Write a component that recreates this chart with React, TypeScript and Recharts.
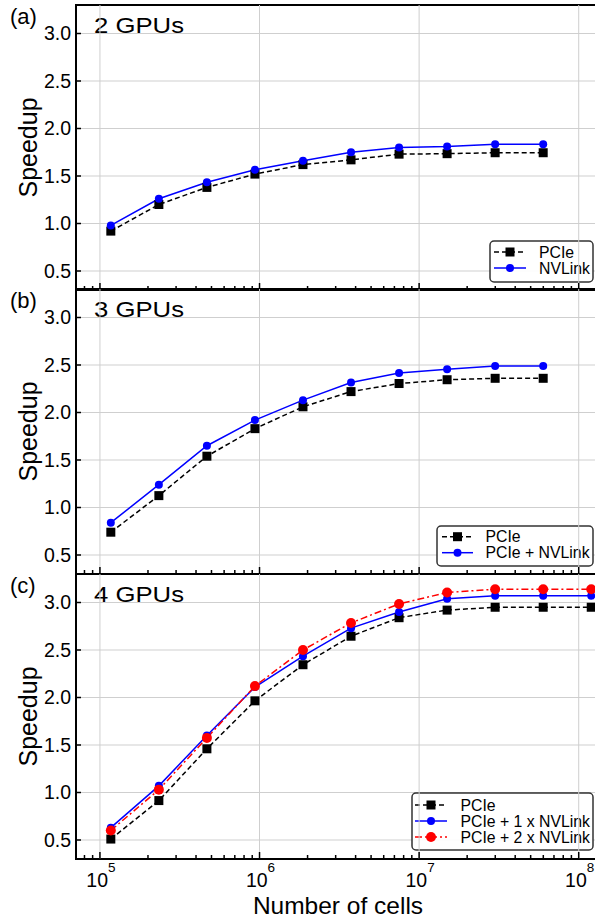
import { CartesianGrid, Customized, Line, LineChart, ReferenceLine, XAxis, YAxis } from 'recharts'

// number of cells at each measurement
const cells = [117000, 234000, 468000, 936000, 1872000, 3744000, 7488000, 14976000, 29952000, 59904000, 119808000]

// (a) 2 GPUs
const pcie2 = [0.92, 1.2, 1.38, 1.52, 1.62, 1.67, 1.73, 1.735, 1.745, 1.745]
const nvlink2 = [0.98, 1.26, 1.435, 1.565, 1.66, 1.75, 1.8, 1.81, 1.835, 1.835]

// (b) 3 GPUs
const pcie3 = [0.74, 1.125, 1.54, 1.83, 2.06, 2.22, 2.305, 2.345, 2.36, 2.36]
const nvlink3 = [0.84, 1.24, 1.65, 1.92, 2.13, 2.315, 2.415, 2.455, 2.49, 2.49]

// (c) 4 GPUs
const pcie4 = [0.51, 0.915, 1.46, 1.965, 2.345, 2.645, 2.84, 2.92, 2.95, 2.95, 2.95]
const nvlink1x4 = [0.63, 1.07, 1.6, 2.11, 2.435, 2.73, 2.9, 3.04, 3.07, 3.07, 3.07]
const nvlink2x4 = [0.6, 1.03, 1.575, 2.12, 2.5, 2.785, 2.985, 3.105, 3.14, 3.14, 3.14]

const yTicks = [0.5, 1, 1.5, 2, 2.5, 3]
const xMajorTicks = [1e5, 1e6, 1e7, 1e8]
const xMinorTicks = [
  8e4, 9e4, 2e5, 3e5, 4e5, 5e5, 6e5, 7e5, 8e5, 9e5, 2e6, 3e6, 4e6, 5e6, 6e6, 7e6, 8e6, 9e6,
  2e7, 3e7, 4e7, 5e7, 6e7, 7e7, 8e7, 9e7,
]
// the plot runs past the right edge of the figure, so the visible part ends near 1.27e8
const xRange = [70795, 126500000]

const FONT = 'Arial, "Liberation Sans", Helvetica, sans-serif'
const CHART_W = 595
const PLOT_LEFT = 76
const MARGIN_TOP = 5
const PLOT_H = 285

type Series = {
  name: string
  values: number[]
  color: string
  dash?: string
  marker: 'square' | 'circle'
  size: number
}

type LegendBox = { x: number; y: number; w: number; h: number; rowY: number; lineX1: number; lineX2: number; textX: number }

function Marker({ s, cx, cy }: { s: Series; cx: number; cy: number }) {
  if (s.marker === 'square') {
    return <rect x={cx - s.size / 2} y={cy - s.size / 2} width={s.size} height={s.size} fill={s.color} />
  }
  return <circle cx={cx} cy={cy} r={s.size / 2} fill={s.color} />
}

function XTick(props: any) {
  const { x, y, payload, showLabels } = props
  const major = xMajorTicks.indexOf(payload.value) >= 0
  return (
    <g>
      <line x1={x} x2={x} y1={y} y2={y - (major ? 7 : 4)} stroke="#000" strokeWidth={1.5} />
      {showLabels && major && (
        <text x={x + 1} y={y + 28} textAnchor="middle" fontSize={19.5} fontFamily={FONT} fill="#000">
          <tspan>10</tspan>
          <tspan dy={-15} fontSize={13.5}>{Math.round(Math.log10(payload.value))}</tspan>
        </text>
      )}
    </g>
  )
}

function YTick(props: any) {
  const { x, y, payload } = props
  return (
    <g>
      <line x1={x} x2={x + 5} y1={y} y2={y} stroke="#000" strokeWidth={1.5} />
      <text x={x - 5} y={y + 6.8} textAnchor="end" fontSize={19.5} fontFamily={FONT} fill="#000">
        {Number(payload.value).toFixed(1)}
      </text>
    </g>
  )
}

function Overlay({ letter, title, series, legend, xLabel }: { letter: string; title: string; series: Series[]; legend: LegendBox; xLabel: boolean }) {
  const top = MARGIN_TOP
  const bottom = MARGIN_TOP + PLOT_H
  return (
    <g fontFamily={FONT}>
      <path
        d={`M${CHART_W + 2},${top} H${PLOT_LEFT} V${bottom} H${CHART_W + 2}`}
        fill="none"
        stroke="#000"
        strokeWidth={2}
      />
      <text x={10} y={MARGIN_TOP + 19} fontSize={22} fill="#000">{letter}</text>
      <text x={94} y={MARGIN_TOP + 28} fontSize={22} textLength={90} lengthAdjust="spacingAndGlyphs" fill="#000">
        {title}
      </text>
      <text
        transform={`translate(37, ${MARGIN_TOP + PLOT_H / 2}) rotate(-90)`}
        textAnchor="middle"
        fontSize={25}
        fill="#000"
      >
        Speedup
      </text>
      {xLabel && (
        <text x={338} y={345} textAnchor="middle" fontSize={24.5} fill="#000">
          Number of cells
        </text>
      )}
      <rect x={legend.x} y={legend.y} width={legend.w} height={legend.h} rx={4} fill="#fff" fillOpacity={0.92} stroke="#333" strokeWidth={1.5} />
      {series.map((s, i) => {
        const cy = legend.rowY + i * 16
        return (
          <g key={s.name}>
            <line x1={legend.lineX1} x2={legend.lineX2} y1={cy} y2={cy} stroke={s.color} strokeWidth={1.5} strokeDasharray={s.dash} />
            <Marker s={s} cx={(legend.lineX1 + legend.lineX2) / 2} cy={cy} />
            <text x={legend.textX} y={cy + 5.6} fontSize={15.8} fill="#000">{s.name}</text>
          </g>
        )
      })}
    </g>
  )
}

function Panel({ letter, title, series, legend, xAxisHeight, xLabel }: { letter: string; title: string; series: Series[]; legend: LegendBox; xAxisHeight: number; xLabel: boolean }) {
  const n = Math.max(...series.map((s) => s.values.length))
  const data = cells.slice(0, n).map((c, i) => {
    const row: Record<string, number> = { cells: c }
    series.forEach((s, k) => {
      row['s' + k] = s.values[i]
    })
    return row
  })
  return (
    <LineChart
      width={CHART_W}
      height={MARGIN_TOP + PLOT_H + xAxisHeight}
      data={data}
      margin={{ top: MARGIN_TOP, right: 0, bottom: 0, left: 0 }}
    >
      <CartesianGrid vertical={false} stroke="#cfcfcf" />
      {xMajorTicks.map((v) => (
        <ReferenceLine key={v} x={v} stroke="#cfcfcf" strokeWidth={1} />
      ))}
      <XAxis
        dataKey="cells"
        type="number"
        scale="log"
        domain={xRange}
        allowDataOverflow
        ticks={[...xMinorTicks, ...xMajorTicks]}
        interval={0}
        height={xAxisHeight}
        axisLine={false}
        tickLine={false}
        tickSize={0}
        tickMargin={0}
        tick={<XTick showLabels={xLabel} />}
      />
      <YAxis
        type="number"
        domain={[0.3, 3.3]}
        allowDataOverflow
        ticks={yTicks}
        interval={0}
        width={PLOT_LEFT}
        axisLine={false}
        tickLine={false}
        tickSize={0}
        tickMargin={0}
        tick={<YTick />}
      />
      {series.map((s, k) => (
        <Line
          key={s.name}
          dataKey={'s' + k}
          type="linear"
          stroke={s.color}
          strokeWidth={1.5}
          strokeDasharray={s.dash}
          dot={(p: any) =>
            p.cx == null || p.cy == null ? <g key={'d' + p.index} /> : (
              <g key={'d' + p.index}>
                <Marker s={s} cx={p.cx} cy={p.cy} />
              </g>
            )
          }
          activeDot={false}
          isAnimationActive={false}
        />
      ))}
      <Customized component={<Overlay letter={letter} title={title} series={series} legend={legend} xLabel={xLabel} />} />
    </LineChart>
  )
}

const seriesA: Series[] = [
  { name: 'PCIe', values: pcie2, color: '#000000', dash: '5 3', marker: 'square', size: 9 },
  { name: 'NVLink', values: nvlink2, color: '#0000ff', marker: 'circle', size: 8 },
]
const seriesB: Series[] = [
  { name: 'PCIe', values: pcie3, color: '#000000', dash: '5 3', marker: 'square', size: 9 },
  { name: 'PCIe + NVLink', values: nvlink3, color: '#0000ff', marker: 'circle', size: 8 },
]
const seriesC: Series[] = [
  { name: 'PCIe', values: pcie4, color: '#000000', dash: '5 3', marker: 'square', size: 9 },
  { name: 'PCIe + 1 x NVLink', values: nvlink1x4, color: '#0000ff', marker: 'circle', size: 8 },
  { name: 'PCIe + 2 x NVLink', values: nvlink2x4, color: '#ff0000', dash: '7 3 2 3', marker: 'circle', size: 10 },
]

export default function App() {
  return (
    <div style={{ position: 'absolute', left: 0, top: 0, width: 595, height: 922, overflow: 'hidden', background: '#fff' }}>
      <div style={{ position: 'absolute', left: 0, top: 0 }}>
        <Panel
          letter="(a)"
          title="2 GPUs"
          series={seriesA}
          xAxisHeight={10}
          xLabel={false}
          legend={{ x: 490, y: 241, w: 103, h: 41, rowY: 252, lineX1: 494, lineX2: 526, textX: 539 }}
        />
      </div>
      <div style={{ position: 'absolute', left: 0, top: 284 }}>
        <Panel
          letter="(b)"
          title="3 GPUs"
          series={seriesB}
          xAxisHeight={10}
          xLabel={false}
          legend={{ x: 437, y: 242, w: 156, h: 40, rowY: 252.7, lineX1: 442, lineX2: 473, textX: 485.5 }}
        />
      </div>
      <div style={{ position: 'absolute', left: 0, top: 569 }}>
        <Panel
          letter="(c)"
          title="4 GPUs"
          series={seriesC}
          xAxisHeight={60}
          xLabel={true}
          legend={{ x: 412, y: 224, w: 181, h: 57, rowY: 236, lineX1: 415, lineX2: 447, textX: 460.5 }}
        />
      </div>
    </div>
  )
}
